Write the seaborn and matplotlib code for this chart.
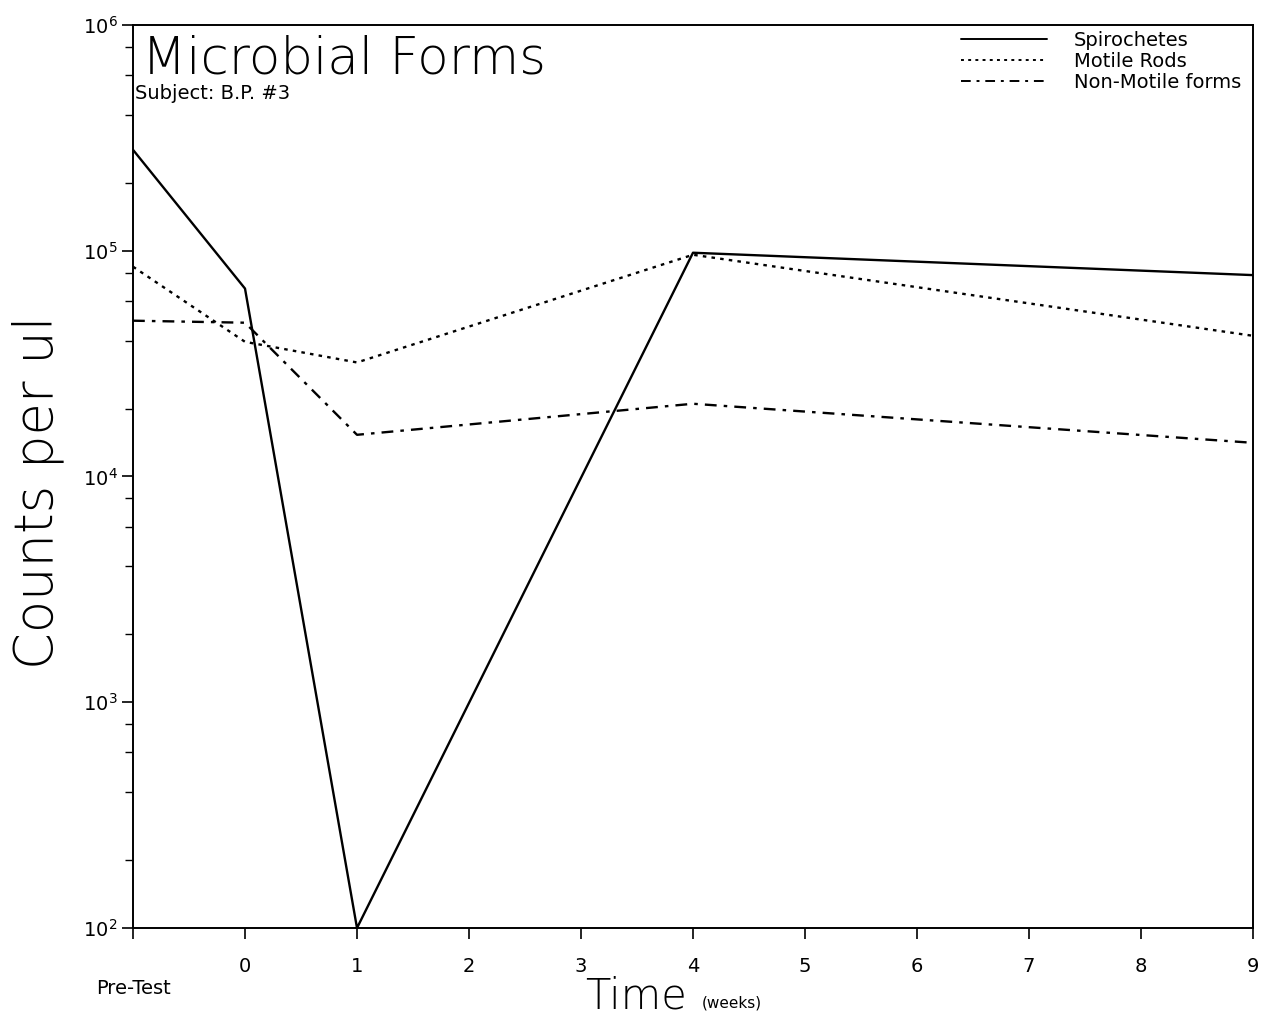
import matplotlib
matplotlib.use("Agg")
import matplotlib.pyplot as plt
import matplotlib.ticker as mticker
import numpy as np
import pandas as pd
import seaborn as sns

# Sampling times in weeks (-1 = pre-test)
weeks = [-1, 0, 1, 4, 9]

# Counts per microlitre for each microbial form
spirochetes = [2.8e5, 6.8e4, 1.0e2, 9.8e4, 7.8e4]
motile_rods = [8.5e4, 3.95e4, 3.2e4, 9.6e4, 4.2e4]
non_motile = [4.9e4, 4.8e4, 1.53e4, 2.1e4, 1.41e4]

series_names = ["Spirochetes", "Motile Rods", "Non-Motile forms"]
x_tick_labels = ["\nPre-Test", "0", "1", "2", "3", "4", "5", "6", "7", "8", "9"]

df = pd.DataFrame({
    "week": weeks * 3,
    "count": spirochetes + motile_rods + non_motile,
    "form": [series_names[0]] * 5 + [series_names[1]] * 5 + [series_names[2]] * 5,
})

sns.set_style("white")
plt.rcParams["font.family"] = ["DejaVu Sans"]
plt.rcParams["text.color"] = "black"
plt.rcParams["axes.labelcolor"] = "black"
plt.rcParams["xtick.color"] = "black"
plt.rcParams["ytick.color"] = "black"

fig = plt.figure(figsize=(12.61, 10.18), dpi=100)
ax = fig.add_axes([133 / 1261, 1 - 928 / 1018, (1253 - 133) / 1261, (928 - 25) / 1018])

dash_styles = {
    "Spirochetes": "",
    "Motile Rods": (1.5, 2.2),
    "Non-Motile forms": (5, 3, 1.5, 3),
}

sns.lineplot(
    data=df, x="week", y="count", style="form", style_order=series_names,
    dashes=dash_styles, color="black", linewidth=1.7, ax=ax, legend=True,
)

ax.set_yscale("log")
ax.set_ylim(1e2, 1e6)
ax.set_xlim(-1, 9)

ax.yaxis.set_major_locator(mticker.LogLocator(base=10, numticks=10))
ax.yaxis.set_minor_locator(mticker.LogLocator(base=10, subs=(2, 4, 6, 8), numticks=10))
ax.yaxis.set_minor_formatter(mticker.NullFormatter())
ax.yaxis.set_major_formatter(mticker.LogFormatterMathtext())

ax.set_xticks(range(-1, 10))
ax.set_xticklabels(x_tick_labels)

ax.tick_params(axis="both", which="both", bottom=True, left=True, top=False, right=False)
ax.tick_params(axis="both", which="major", direction="out", length=8, width=1.2,
               labelsize=14, colors="black")
ax.tick_params(axis="y", which="minor", direction="out", length=6, width=1.0, colors="black")
ax.tick_params(axis="x", which="major", pad=13)
ax.tick_params(axis="y", which="major", pad=3)

for s in ax.spines.values():
    s.set_visible(True)
    s.set_color("black")
    s.set_linewidth(1.4)

ax.set_xlabel("")
ax.set_ylabel("")

# Titles inside the frame
ax.text(0.008, 0.989, "Microbial Forms", transform=ax.transAxes, fontsize=37,
        va="top", ha="left", fontweight="light")
ax.text(0.002, 0.935, "Subject: B.P. #3", transform=ax.transAxes, fontsize=14,
        va="top", ha="left")

# Axis titles
fig.text(38 / 1261, 1 - 492 / 1018, "Counts per ul", rotation=90, fontsize=38,
         va="center", ha="center", fontweight="light")
fig.text(636 / 1261, 1 - 996 / 1018, "Time", fontsize=30, va="center", ha="center",
         fontweight="light")
fig.text(702 / 1261, 1 - 1003 / 1018, "(weeks)", fontsize=11, va="center", ha="left")

leg = ax.legend(loc="upper right", frameon=False, fontsize=14, handlelength=4.4,
                handletextpad=1.4, labelspacing=0.1, borderaxespad=0.2,
                bbox_to_anchor=(1.0, 1.006))
for line in leg.get_lines():
    line.set_color("black")
    line.set_linewidth(1.4)

fig.savefig("out.png", dpi=100)
